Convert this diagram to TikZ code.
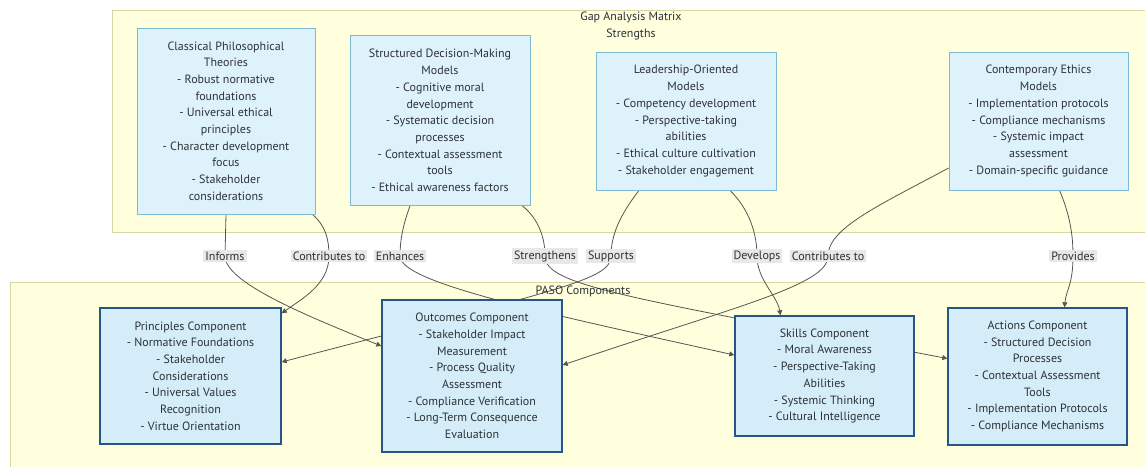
\documentclass[tikz,border=0pt]{standalone}
\usepackage{fontspec}
\setmainfont{PT Sans}
\usetikzlibrary{arrows.meta}
\definecolor{clusterfill}{RGB}{255,255,222}
\definecolor{clusterline}{RGB}{215,215,160}
\definecolor{gapfill}{RGB}{222,242,251}
\definecolor{gapline}{RGB}{125,185,210}
\definecolor{pasofill}{RGB}{212,237,248}
\definecolor{pasoline}{RGB}{40,85,135}
\definecolor{ink}{RGB}{45,50,55}
\definecolor{linkcol}{RGB}{85,85,85}
\definecolor{lblfill}{RGB}{232,232,232}
\pgfdeclarelayer{clusters}
\pgfdeclarelayer{edges}
\pgfsetlayers{clusters,edges,main}

\begin{document}
\begin{tikzpicture}[x=1pt, y=-1pt, >={Triangle[length=5pt,width=5pt]},
    every node/.style={font=\fontsize{12}{16.7}\selectfont, text=ink},
    gap/.style={draw=gapline, fill=gapfill, line width=0.8pt, align=center, inner sep=0pt},
    paso/.style={draw=pasoline, fill=pasofill, line width=1.4pt, align=center, inner sep=0pt},
    lbl/.style={fill=lblfill, inner sep=2pt},
    link/.style={->, draw=linkcol, line width=0.8pt}]
    \useasboundingbox (0,0) rectangle (1145,466);

    \begin{pgfonlayer}{clusters}
    \draw[draw=clusterline, fill=clusterfill] (112,10) rectangle (1160,232);
    \draw[draw=clusterline, fill=clusterfill] (10,282) rectangle (1160,480);
    \end{pgfonlayer}
    \node[align=center] (gaptitle) at (631,26) {Gap Analysis Matrix\\Strengths};
    \node (pasotitle) at (583,291) {PASO Components};

    \node[gap, minimum width=178pt, minimum height=186pt] (classical) at (226,121) {Classical Philosophical\\Theories\\- Robust normative\\foundations\\- Universal ethical\\principles\\- Character development\\focus\\- Stakeholder\\considerations};
    \node[gap, minimum width=180pt, minimum height=170pt] (structured) at (440,120.5) {Structured Decision-Making\\Models\\- Cognitive moral\\development\\- Systematic decision\\processes\\- Contextual assessment\\tools\\- Ethical awareness factors};
    \node[gap, minimum width=180pt, minimum height=138pt] (leadership) at (686,121) {Leadership-Oriented\\Models\\- Competency development\\- Perspective-taking\\abilities\\- Ethical culture cultivation\\- Stakeholder engagement};
    \node[gap, minimum width=179pt, minimum height=138pt] (contemporary) at (1038.5,121) {Contemporary Ethics\\Models\\- Implementation protocols\\- Compliance mechanisms\\- Systemic impact\\assessment\\- Domain-specific guidance};

    \node[paso, minimum width=181pt, minimum height=136pt] (principles) at (190.5,376) {Principles Component\\- Normative Foundations\\- Stakeholder\\Considerations\\- Universal Values\\Recognition\\- Virtue Orientation};
    \node[paso, minimum width=180pt, minimum height=152pt] (outcomes) at (472,376) {Outcomes Component\\- Stakeholder Impact\\Measurement\\- Process Quality\\Assessment\\- Compliance Verification\\- Long-Term Consequence\\Evaluation};
    \node[paso, minimum width=179pt, minimum height=120pt] (skills) at (824.5,376) {Skills Component\\- Moral Awareness\\- Perspective-Taking\\Abilities\\- Systemic Thinking\\- Cultural Intelligence};
    \node[paso, minimum width=179pt, minimum height=137pt] (actions) at (1037.5,376.5) {Actions Component\\- Structured Decision\\Processes\\- Contextual Assessment\\Tools\\- Implementation Protocols\\- Compliance Mechanisms};

    \node[lbl] (informs) at (225,256) {Informs};
    \node[lbl] (contrib) at (329,256) {Contributes to};
    \node[lbl] (enhances) at (400,256) {Enhances};
    \node[lbl] (strengthens) at (545,256) {Strengthens};
    \node[lbl] (supports) at (611,256) {Supports};
    \node[lbl] (develops) at (757,256) {Develops};
    \node[lbl] (contribtoo) at (828,256) {Contributes to};
    \node[lbl] (provides) at (1073,256) {Provides};

    \begin{pgfonlayer}{edges}
    \draw[link] (classical.south) -- (informs.center) .. controls (225,282) and (302,314) .. ([yshift=30pt]outcomes.west);
    \draw[link] ([xshift=-3pt]classical.south east) .. controls (326,226) and (329,240) .. (contrib.center) .. controls (329,285) and (300,300) .. ([yshift=-6pt]principles.north east);
    \draw[link] ([xshift=-30pt]structured.south) .. controls (403,225) and (400,240) .. (enhances.center) .. controls (400,282) and (535,311) .. ([yshift=21pt]skills.west);
    \draw[link] ([xshift=-8pt]structured.south east) .. controls (540,220) and (545,240) .. (strengthens.center) .. controls (545,285) and (620,296) .. ([yshift=18pt]actions.west);
    \draw[link] ([xshift=-47pt]leadership.south) .. controls (620,215) and (611,235) .. (supports.center) .. controls (611,280) and (560,289) .. ([yshift=14pt]principles.east);
    \draw[link] ([xshift=44pt]leadership.south) .. controls (750,210) and (757,235) .. (develops.center) .. controls (757,280) and (777,295) .. ([xshift=-44pt]skills.north);
    \draw[link] ([yshift=-47pt]contemporary.west) .. controls (880,205) and (828,228) .. (contribtoo.center) .. controls (828,285) and (740,305) .. ([yshift=11pt]outcomes.east);
    \draw[link] ([xshift=21pt]contemporary.south) .. controls (1070,215) and (1073,235) .. (provides.center) .. controls (1073,285) and (1066,290) .. ([xshift=27pt]actions.north);
    \end{pgfonlayer}
\end{tikzpicture}
\end{document}
